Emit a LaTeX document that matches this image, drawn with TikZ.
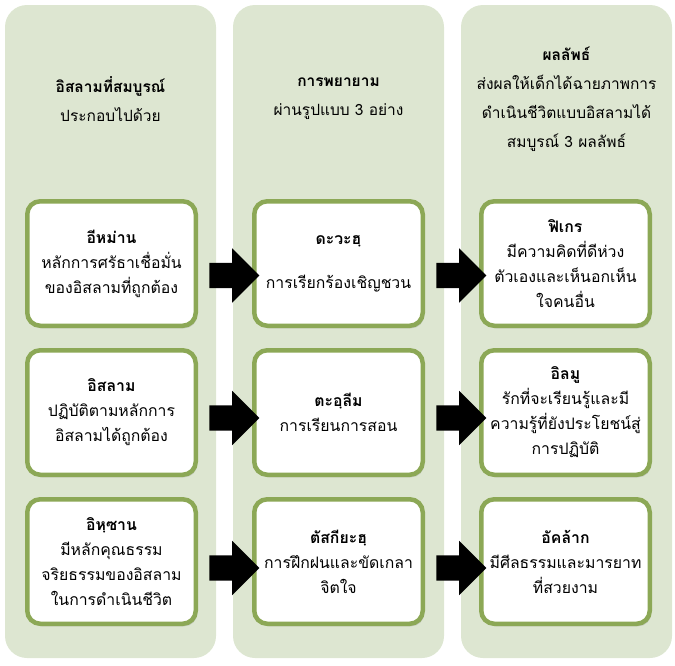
\documentclass[tikz,border=0pt]{standalone}
\usepackage{fontspec}
\newfontfamily\thaifont[Script=Thai]{Loma}
\usetikzlibrary{positioning,shapes.arrows,shadows}
\definecolor{colbg}{RGB}{221,230,209}
\definecolor{boxline}{RGB}{140,168,86}
\begin{document}
\begin{tikzpicture}[x=1pt,y=1pt,
		colbox/.style={fill=colbg, rounded corners=22pt, minimum width=211pt, minimum height=653pt, inner sep=0pt},
		itembox/.style={draw=boxline, line width=4.5pt, fill=white, rounded corners=13pt,
			minimum width=168.5pt, minimum height=124.5pt, inner sep=0pt, align=center,
			font=\thaifont\fontsize{15.8}{25}\selectfont,
			drop shadow={shadow xshift=1.5pt, shadow yshift=-2.5pt, opacity=0.3}},
		headtext/.style={align=center, font=\thaifont\fontsize{15.5}{29}\selectfont},
		blockarrow/.style={single arrow, fill=black, inner xsep=0pt, inner ysep=12.5pt,
			minimum height=50pt, minimum width=54pt, single arrow head extend=14.5pt}
		]
		\useasboundingbox (0,0) rectangle (675,-665);
		\node[colbox](C1) at (110.5,-331.5){};
		\node[colbox, node distance=228pt, right of = C1](C2){};
		\node[colbox, node distance=228pt, right of = C2](C3){};
		
		\node[headtext, yshift = -94pt](H1) at (C1.north){\textbf{อิสลามที่สมบูรณ์}\\ประกอบไปด้วย};
		\node[headtext, yshift = -94pt](H2) at (C2.north){\textbf{การพยายาม}\\ผ่านรูปแบบ 3 อย่าง};
		\node[headtext, yshift = -94pt](H3) at (C3.north){\textbf{ผลลัพธ์}\\ส่งผลให้เด็กได้ฉายภาพการ\\ดำเนินชีวิตแบบอิสลามได้\\สมบูรณ์ 3 ผลลัพธ์};
		
		\node[itembox](B11) at (111.5,-263.5){\textbf{อีหม่าน}\\หลักการศรัธาเชื่อมั่น\\ของอิสลามที่ถูกต้อง};
		\node[itembox, node distance=149pt, below of = B11](B21){\textbf{อิสลาม}\\ปฏิบัติตามหลักการ\\อิสลามได้ถูกต้อง};
		\node[itembox, node distance=149pt, below of = B21](B31){\textbf{อิหฺซาน}\\มีหลักคุณธรรม\\จริยธรรมของอิสลาม\\ในการดำเนินชีวิต};
		
		\node[itembox, node distance=227pt, right of = B11](B12){\textbf{ดะวะฮฺ}\\[19pt]การเรียกร้องเชิญชวน};
		\node[itembox, node distance=227pt, right of = B21](B22){\textbf{ตะอฺลีม}\\การเรียนการสอน};
		\node[itembox, node distance=227pt, right of = B31](B32){\textbf{ตัสกียะฮฺ}\\การฝึกฝนและขัดเกลา\\จิตใจ};
		
		\node[itembox, node distance=227pt, right of = B12](B13){\textbf{ฟิเกร}\\มีความคิดที่ดีห่วง\\ตัวเองและเห็นอกเห็น\\ใจคนอื่น};
		\node[itembox, node distance=227pt, right of = B22](B23){\textbf{อิลมู}\\รักที่จะเรียนรู้และมี\\ความรู้ที่ยังประโยชน์สู่\\การปฏิบัติ};
		\node[itembox, node distance=227pt, right of = B32](B33){\textbf{อัคล้าก}\\มีศีลธรรมและมารยาท\\ที่สวยงาม};
		
		\path (B11.east) -- (B12.west) node[blockarrow, midway, xshift=3pt, yshift=-12pt](A11){};
		\path (B21.east) -- (B22.west) node[blockarrow, midway, xshift=3pt, yshift=-5.5pt](A21){};
		\path (B31.east) -- (B32.west) node[blockarrow, midway, xshift=3pt, yshift=-6.5pt](A31){};
		\path (B12.east) -- (B13.west) node[blockarrow, midway, xshift=3pt, yshift=-12pt](A12){};
		\path (B22.east) -- (B23.west) node[blockarrow, midway, xshift=3pt, yshift=-5.5pt](A22){};
		\path (B32.east) -- (B33.west) node[blockarrow, midway, xshift=3pt, yshift=-6.5pt](A32){};
	\end{tikzpicture}
\end{document}
